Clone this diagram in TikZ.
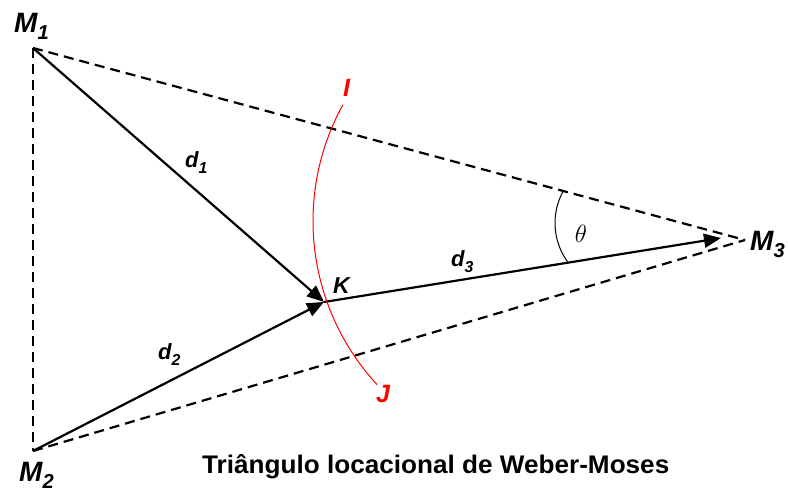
\documentclass[tikz,border=0pt]{standalone}
\usepackage{fontspec}
\usepackage{graphicx}
\setmainfont{Liberation Sans}
\usetikzlibrary{arrows.meta}
\newcommand\lsub[1]{\raisebox{-0.25em}{\scalebox{0.72}{#1}}}
\begin{document}
\begin{tikzpicture}[x=1pt,y=-1pt,
  dashln/.style={line width=2.2pt, dash pattern=on 10pt off 6pt},
  vec/.style={line width=2.2pt, -{Triangle[length=17pt,width=14pt]}},
  lblM/.style={inner sep=0pt, anchor=base west, font=\fontsize{28}{28}\selectfont\bfseries\itshape},
  lbld/.style={inner sep=0pt, anchor=base west, font=\fontsize{22}{22}\selectfont\bfseries\itshape},
  lblr/.style={inner sep=0pt, anchor=base west, text=red, font=\fontsize{25}{25}\selectfont\bfseries\itshape}]
\useasboundingbox (0,0) rectangle (788,494);
\fill[white] (0,0) rectangle (788,494);
% points
\coordinate (M1) at (33,48);
\coordinate (M2) at (33,451);
\coordinate (M3) at (745,240);
\coordinate (K) at (324,302);
\coordinate (T3) at (721,238);
% dashed triangle
\draw[dashln] (M1) -- (M3);
\draw[dashln] (M2) -- (M3);
\draw[dashln] (M1) -- (M2);
% vectors
\draw[vec] (M1) -- (K);
\draw[vec] (M2) -- (K);
\draw[vec] (K) -- (T3);
% red arc
\draw[red, line width=1pt] (554,221) ++(208.8:241) arc[start angle=208.8, end angle=137.2, radius=241];
% angle arc
\draw[line width=1pt] (621,223) ++(209:66) arc[start angle=209, end angle=144, radius=66];
% labels
\node[lblM] (m1) at (14,33) {M\lsub{1}};
\node[lblM] (m2) at (19,482) {M\lsub{2}};
\node[lblM] (m3) at (750,251) {M\lsub{3}};
\node[lbld] (d1) at (185,168) {d\lsub{1}};
\node[lbld] (d2) at (158,360) {d\lsub{2}};
\node[lbld] (d3) at (451,267) {d\lsub{3}};
\node[inner sep=0pt, anchor=base west, font=\fontsize{23}{23}\selectfont\bfseries\itshape] (k) at (333,294) {K};
\node[lblr] (i) at (343,97) {I};
\node[lblr] (j) at (376,403) {J};
\node[inner sep=0pt, font=\fontsize{27}{27}\selectfont] (th) at (581,234) {$\theta$};
\node[inner sep=0pt, anchor=base west] (title) at (202,474) {\resizebox{467pt}{19pt}{\bfseries Triângulo locacional de Weber-Moses}};
\end{tikzpicture}
\end{document}
